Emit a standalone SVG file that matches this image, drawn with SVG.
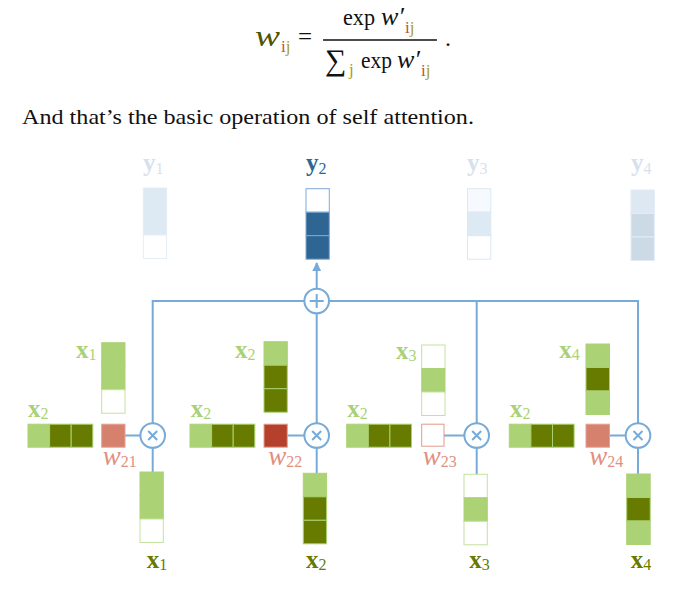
<svg xmlns="http://www.w3.org/2000/svg" width="690" height="592" viewBox="0 0 690 592">
<style>
  .serif { font-family: "Liberation Serif", "DejaVu Serif", serif; }
  .mi { font-family: "Liberation Serif", serif; font-style: italic; }
  .bus { stroke: #76aad9; stroke-width: 2; fill: none; }
  .op { stroke: #76aad9; stroke-width: 2; fill: #ffffff; }
  .L { fill: #abd275; stroke: #acd376; stroke-width: 1; }
  .D { fill: #677b00; stroke: #a9d072; stroke-width: 1; }
  .W { fill: #ffffff; stroke: #c3e1a0; stroke-width: 1; }
  .xl { fill: #a9d177; }
  .xd { fill: #677a00; }
  .wl { fill: #e0907e; }
  .xb { font-family: "Liberation Serif", serif; font-weight: bold; font-size: 25px; }
  .sub { font-family: "Liberation Serif", serif; font-size: 16px; font-weight: normal; font-style: normal; }
  .wt { font-family: "Liberation Serif", serif; font-style: italic; font-size: 27px; }
</style>
<defs>
  <marker id="ah" viewBox="0 0 10 10" refX="9" refY="5" markerWidth="4.5" markerHeight="4.5" orient="auto">
    <path d="M0,0 L10,5 L0,10 z" fill="#76aad9"/>
  </marker>
</defs>
<rect width="690" height="592" fill="#ffffff"/>

<!-- formula -->
<g id="formula" class="serif" fill="#111111">
  <text x="255" y="46" class="mi" font-size="29" fill="#4d5500" textLength="25" lengthAdjust="spacingAndGlyphs">w</text>
  <text x="281" y="52" font-size="17"><tspan fill="#c0503a">i</tspan><tspan fill="#a3a01e">j</tspan></text>
  <text x="305" y="45" font-size="25" text-anchor="middle">=</text>
  <line x1="323" y1="40" x2="437" y2="40" stroke="#111111" stroke-width="1.3"/>
  <text x="343" y="25" font-size="24" textLength="32" lengthAdjust="spacingAndGlyphs">exp</text>
  <text x="381" y="25" class="mi" font-size="26">w′</text>
  <text x="405" y="33" font-size="17"><tspan fill="#c0503a">i</tspan><tspan fill="#a3a01e">j</tspan></text>
  <text x="325" y="70" font-size="30">∑</text>
  <text x="349" y="75" font-size="17" fill="#a3a01e">j</text>
  <text x="361" y="68" font-size="24" textLength="31" lengthAdjust="spacingAndGlyphs">exp</text>
  <text x="397" y="68" class="mi" font-size="26">w′</text>
  <text x="421" y="76" font-size="17"><tspan fill="#c0503a">i</tspan><tspan fill="#a3a01e">j</tspan></text>
  <text x="445" y="46" font-size="24">.</text>
</g>

<text id="caption" x="22" y="124" class="serif" font-size="21" fill="#111111" textLength="452" lengthAdjust="spacingAndGlyphs">And that’s the basic operation of self attention.</text>

<!-- connectors -->
<g id="connectors">
  <polyline class="bus" points="152.7,423 152.7,301 638,301 638,423"/>
  <line class="bus" x1="316.7" y1="301" x2="316.7" y2="423"/>
  <line class="bus" x1="476.7" y1="301" x2="476.7" y2="423"/>
  <line class="bus" x1="316.7" y1="289" x2="316.7" y2="263" marker-end="url(#ah)"/>
  <line class="bus" x1="125" y1="435.5" x2="140.2" y2="435.5"/>
  <line class="bus" x1="287.3" y1="435.5" x2="304.2" y2="435.5"/>
  <line class="bus" x1="444" y1="435.5" x2="464.2" y2="435.5"/>
  <line class="bus" x1="610" y1="435.5" x2="625.5" y2="435.5"/>
  <line class="bus" x1="152.7" y1="448" x2="152.7" y2="472"/>
  <line class="bus" x1="316.7" y1="448" x2="316.7" y2="473.3"/>
  <line class="bus" x1="476.7" y1="448" x2="476.7" y2="474.3"/>
  <line class="bus" x1="638" y1="448" x2="638" y2="474"/>
</g>

<!-- sum node -->
<g id="sum">
  <circle class="op" cx="316.7" cy="301" r="12.3"/>
  <line class="bus" x1="309.7" y1="301" x2="323.7" y2="301"/>
  <line class="bus" x1="316.7" y1="294" x2="316.7" y2="308"/>
</g>

<!-- outputs -->
<g id="y1">
  <text x="143" y="171" class="xb" font-size="26" fill="#d5e2ee">y<tspan class="sub" dy="3">1</tspan></text>
  <rect x="143.3" y="188" width="23.3" height="47" fill="#dde9f3" stroke="#e4edf6"/>
  <rect x="143.3" y="235" width="23.3" height="23.5" fill="#ffffff" stroke="#e4edf6"/>
</g>
<g id="y2">
  <text x="306" y="171" class="xb" font-size="26" fill="#2e6593">y<tspan class="sub" dy="3">2</tspan></text>
  <rect x="306" y="188.7" width="23.3" height="23.5" fill="#ffffff" stroke="#7ea9d6"/>
  <rect x="306" y="212.2" width="23.3" height="23.5" fill="#2e6593" stroke="#7ea9d6"/>
  <rect x="306" y="235.7" width="23.3" height="23.5" fill="#2e6593" stroke="#7ea9d6"/>
</g>
<g id="y3">
  <text x="467" y="171" class="xb" font-size="26" fill="#d5e2ee">y<tspan class="sub" dy="3">3</tspan></text>
  <rect x="467.5" y="188.7" width="23.3" height="23.5" fill="#f6f9fd" stroke="#dde8f3"/>
  <rect x="467.5" y="212.2" width="23.3" height="23.5" fill="#dde9f3" stroke="#dde8f3"/>
  <rect x="467.5" y="235.7" width="23.3" height="23.5" fill="#ffffff" stroke="#dde8f3"/>
</g>
<g id="y4">
  <text x="631" y="171" class="xb" font-size="26" fill="#d5e2ee">y<tspan class="sub" dy="3">4</tspan></text>
  <rect x="631" y="190" width="23.3" height="23.5" fill="#dde8f2" stroke="#e2ebf5"/>
  <rect x="631" y="213.5" width="23.3" height="23.5" fill="#ccdae6" stroke="#e2ebf5"/>
  <rect x="631" y="237" width="23.3" height="23.5" fill="#ccdae6" stroke="#e2ebf5"/>
</g>

<!-- block 1 -->
<g id="block1">
  <text x="76" y="358" class="xb xl">x<tspan class="sub" dy="2">1</tspan></text>
  <rect class="L" x="101.7" y="342.7" width="23.3" height="23.5"/>
  <rect class="L" x="101.7" y="366.2" width="23.3" height="23.5"/>
  <rect class="W" x="101.7" y="389.7" width="23.3" height="23.5"/>
  <text x="28" y="417" class="xb xl">x<tspan class="sub" dy="2">2</tspan></text>
  <rect class="L" x="28" y="424.2" width="21.6" height="23"/>
  <rect class="D" x="49.6" y="424.2" width="21.6" height="23"/>
  <rect class="D" x="71.2" y="424.2" width="21.6" height="23"/>
  <rect x="101.7" y="424.2" width="23.3" height="23" fill="#d6806e" stroke="#e6a091"/>
  <text x="102.7" y="465" class="wt wl">w<tspan class="sub" dy="2">21</tspan></text>
  <circle class="op" cx="152.7" cy="435.5" r="12.3"/>
  <path class="bus" d="M148.2,431 L157.2,440 M157.2,431 L148.2,440"/>
  <rect class="L" x="140" y="472" width="23.3" height="23.5"/>
  <rect class="L" x="140" y="495.5" width="23.3" height="23.5"/>
  <rect class="W" x="140" y="519" width="23.3" height="23.5"/>
  <text x="146.7" y="568" class="xb xd">x<tspan class="sub" dy="2">1</tspan></text>
</g>

<!-- block 2 -->
<g id="block2">
  <text x="235" y="358" class="xb xl">x<tspan class="sub" dy="2">2</tspan></text>
  <rect class="L" x="264" y="341.7" width="23.3" height="23.5"/>
  <rect class="D" x="264" y="365.2" width="23.3" height="23.5"/>
  <rect class="D" x="264" y="388.7" width="23.3" height="23.5"/>
  <text x="190.7" y="417" class="xb xl">x<tspan class="sub" dy="2">2</tspan></text>
  <rect class="L" x="190" y="424.2" width="21.6" height="23"/>
  <rect class="D" x="211.6" y="424.2" width="21.6" height="23"/>
  <rect class="D" x="233.2" y="424.2" width="21.6" height="23"/>
  <rect x="264" y="424.2" width="23.3" height="23" fill="#b5402b" stroke="#e6a091"/>
  <text x="268.3" y="465" class="wt wl">w<tspan class="sub" dy="2">22</tspan></text>
  <circle class="op" cx="316.7" cy="435.5" r="12.3"/>
  <path class="bus" d="M312.2,431 L321.2,440 M321.2,431 L312.2,440"/>
  <rect class="L" x="303.3" y="473.3" width="23.3" height="23.5"/>
  <rect class="D" x="303.3" y="496.8" width="23.3" height="23.5"/>
  <rect class="D" x="303.3" y="520.3" width="23.3" height="23.5"/>
  <text x="306" y="568" class="xb xd">x<tspan class="sub" dy="2">2</tspan></text>
</g>

<!-- block 3 -->
<g id="block3">
  <text x="396" y="359" class="xb xl">x<tspan class="sub" dy="2">3</tspan></text>
  <rect class="W" x="421.7" y="345" width="23.3" height="23.5"/>
  <rect class="L" x="421.7" y="368.5" width="23.3" height="23.5"/>
  <rect class="W" x="421.7" y="392" width="23.3" height="23.5"/>
  <text x="347.3" y="417" class="xb xl">x<tspan class="sub" dy="2">2</tspan></text>
  <rect class="L" x="346.7" y="424.2" width="21.6" height="23"/>
  <rect class="D" x="368.3" y="424.2" width="21.6" height="23"/>
  <rect class="D" x="389.9" y="424.2" width="21.6" height="23"/>
  <rect x="421.7" y="424.2" width="22.3" height="22" fill="#ffffff" stroke="#e39a8c"/>
  <text x="422.7" y="465" class="wt wl">w<tspan class="sub" dy="2">23</tspan></text>
  <circle class="op" cx="476.7" cy="435.5" r="12.3"/>
  <path class="bus" d="M472.2,431 L481.2,440 M481.2,431 L472.2,440"/>
  <rect class="W" x="464" y="474.3" width="23.3" height="23.5"/>
  <rect class="L" x="464" y="497.8" width="23.3" height="23.5"/>
  <rect class="W" x="464" y="521.3" width="23.3" height="23.5"/>
  <text x="469.3" y="568" class="xb xd">x<tspan class="sub" dy="2">3</tspan></text>
</g>

<!-- block 4 -->
<g id="block4">
  <text x="559.3" y="358" class="xb xl">x<tspan class="sub" dy="2">4</tspan></text>
  <rect class="L" x="586" y="344" width="23.5" height="23.5"/>
  <rect class="D" x="586" y="367.5" width="23.5" height="23.5"/>
  <rect class="L" x="586" y="391" width="23.5" height="23.5"/>
  <text x="510" y="417" class="xb xl">x<tspan class="sub" dy="2">2</tspan></text>
  <rect class="L" x="509.3" y="424.2" width="21.6" height="23"/>
  <rect class="D" x="530.9" y="424.2" width="21.6" height="23"/>
  <rect class="D" x="552.5" y="424.2" width="21.6" height="23"/>
  <rect x="586" y="424.2" width="23.5" height="23" fill="#d6806e" stroke="#e6a091"/>
  <text x="589.3" y="465" class="wt wl">w<tspan class="sub" dy="2">24</tspan></text>
  <circle class="op" cx="638" cy="435.5" r="12.3"/>
  <path class="bus" d="M633.5,431 L642.5,440 M642.5,431 L633.5,440"/>
  <rect class="L" x="626.7" y="474" width="23.5" height="23.5"/>
  <rect class="D" x="626.7" y="497.5" width="23.5" height="23.5"/>
  <rect class="L" x="626.7" y="521" width="23.5" height="23.5"/>
  <text x="630.7" y="568" class="xb xd">x<tspan class="sub" dy="2">4</tspan></text>
</g>
</svg>
